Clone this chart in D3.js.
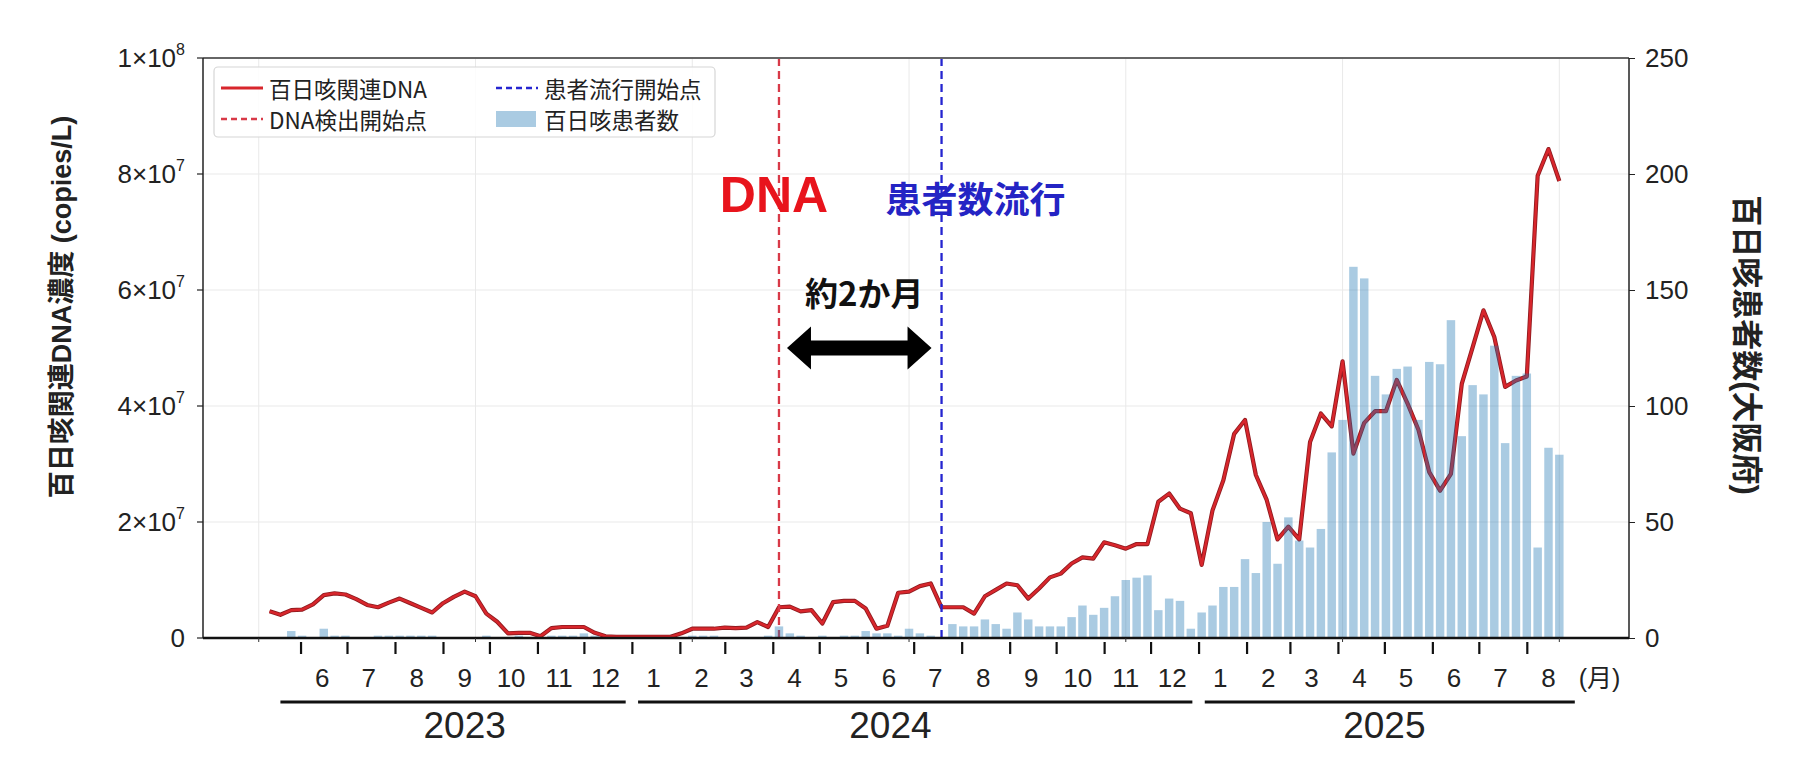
<!DOCTYPE html>
<html>
<head>
<meta charset="utf-8">
<script src="https://cdn.jsdelivr.net/npm/d3@7"></script>
<style>
  body { margin: 0; background: #fff; }
  svg text { font-family: "Liberation Sans", Arial, "Noto Sans CJK JP", sans-serif; }
  .jp { font-family: "Noto Sans CJK JP", "Liberation Sans", sans-serif; }
</style>
</head>
<body>
<svg id="chart" width="1802" height="760"></svg>
<script>
// 週ごとのデータ（2023-05-12 から毎週）
const weekStart = "2023-05-12";

// 百日咳関連DNA濃度 (×10^6 copies/L)
const dnaMillion = [
  4.6, 4.0, 4.8, 4.9, 5.8, 7.4, 7.7, 7.5, 6.7, 5.7,
  5.3, 6.1, 6.8, 6.0, 5.2, 4.4, 6.0, 7.1, 8.0, 7.2,
  4.2, 2.8, 0.8, 0.9, 0.9, 0.3, 1.7, 1.9, 1.9, 1.9,
  0.9, 0.3, 0.2, 0.2, 0.2, 0.2, 0.2, 0.2, 0.8, 1.6,
  1.6, 1.6, 1.8, 1.7, 1.8, 2.75, 1.9, 5.3, 5.4, 4.6,
  4.8, 2.5, 6.2, 6.4, 6.4, 5.1, 1.6, 2.1, 7.8, 8.0,
  8.95, 9.4, 5.3, 5.3, 5.3, 4.2, 7.2, 8.3, 9.4, 9.1,
  6.8, 8.55, 10.45, 11.1, 12.85, 13.9, 13.7, 16.5, 16.0, 15.4,
  16.2, 16.2, 23.5, 24.9, 22.3, 21.5, 12.6, 22.0, 27.2, 35.2,
  37.6, 28.1, 23.8, 17.0, 19.2, 17.0, 33.8, 38.7, 36.5, 47.7,
  31.8, 37.1, 39.1, 39.1, 44.5, 40.4, 35.9, 28.6, 25.4, 28.3,
  43.8, 50.1, 56.5, 51.9, 43.3, 44.4, 45.1, 79.7, 84.3, 78.8
];

// 百日咳患者数（大阪府）
const patients = [
  0, 0, 3, 1, 0, 4, 1, 1, 0, 0,
  1, 1, 1, 1, 1, 1, 0, 0, 0, 0,
  1, 0, 0, 1, 0, 0, 1, 1, 1, 2,
  1, 0, 0, 0, 0, 0, 0, 0, 0, 1,
  1, 1, 0, 0, 0, 0, 1, 5, 2, 1,
  0, 1, 0, 1, 1, 3, 2, 2, 1, 4,
  2, 1, 0, 6, 5, 5, 8, 6, 4, 11,
  8, 5, 5, 5, 9, 14, 10, 13, 18, 25,
  26, 27, 12, 17, 16, 4, 11, 14, 22, 22,
  34, 28, 50, 32, 52, 42, 39, 47, 80, 94,
  160, 155, 113, 105, 116, 117, 94, 119, 118, 137,
  87, 109, 105, 126, 84, 113, 114, 39, 82, 79
];

// 軸の目盛り
const leftTicks = [0, 20, 40, 60, 80, 100];   // ×10^6
const rightTicks = [0, 50, 100, 150, 200, 250];
const monthLabels = ["6","7","8","9","10","11","12",
  "1","2","3","4","5","6","7","8","9","10","11","12",
  "1","2","3","4","5","6","7","8"];
const yearLabels = ["2023", "2024", "2025"];
const yearSpans = [["2023-05-19", "2023-12-28"], ["2024-01-05", "2024-12-28"], ["2025-01-05", "2025-09-01"]];
const yearLabelAt = ["2023-09-15", "2024-06-16", "2025-05-01"];
const gridWeeks = [-1, 19, 39, 59, 79, 99, 119];

// 開始点（週インデックス）
const dnaStartWeek = 47;
const patientStartWeek = 62;

const M = { left: 203, right: 1629, top: 58, bottom: 638 };

const svg = d3.select("#chart");
const t0 = new Date(weekStart + "T00:00:00Z");
const dates = dnaMillion.map((_, i) => d3.utcDay.offset(t0, 7 * i));
const weekDate = i => d3.utcDay.offset(t0, 7 * i);
const utc = s => new Date(s + "T00:00:00Z");

const x = d3.scaleUtc()
  .domain([utc("2023-03-30"), utc("2025-10-06")])
  .range([M.left, M.right]);
const yL = d3.scaleLinear().domain([0, 100]).range([M.bottom, M.top]);
const yR = d3.scaleLinear().domain([0, 250]).range([M.bottom, M.top]);

// グリッド
svg.append("g").selectAll("line").data(leftTicks.slice(1, -1)).join("line")
  .attr("x1", M.left).attr("x2", M.right)
  .attr("y1", d => yL(d)).attr("y2", d => yL(d))
  .attr("stroke", "#e9e9e9").attr("stroke-width", 1);
svg.append("g").selectAll("line").data(gridWeeks).join("line")
  .attr("x1", d => x(weekDate(d))).attr("x2", d => x(weekDate(d)))
  .attr("y1", M.top).attr("y2", M.bottom)
  .attr("stroke", "#e9e9e9").attr("stroke-width", 1);

// DNA 折れ線
const line = d3.line().x((d, i) => x(dates[i])).y(d => yL(d));
svg.append("path").datum(dnaMillion)
  .attr("fill", "none").attr("stroke", "#8e1b1f").attr("stroke-width", 4.2)
  .attr("stroke-linejoin", "round").attr("d", line);
svg.append("path").datum(dnaMillion)
  .attr("fill", "none").attr("stroke", "#d8262c").attr("stroke-width", 2.5)
  .attr("stroke-linejoin", "round").attr("d", line);

// 開始点の縦線
svg.append("line")
  .attr("x1", x(weekDate(dnaStartWeek))).attr("x2", x(weekDate(dnaStartWeek)))
  .attr("y1", M.top).attr("y2", M.bottom)
  .attr("stroke", "#d83a48").attr("stroke-width", 2.3).attr("stroke-dasharray", "8,5");
svg.append("line")
  .attr("x1", x(weekDate(patientStartWeek))).attr("x2", x(weekDate(patientStartWeek)))
  .attr("y1", M.top).attr("y2", M.bottom)
  .attr("stroke", "#2525d0").attr("stroke-width", 2.3).attr("stroke-dasharray", "8,5");

// 患者数の棒
const bw = (x(weekDate(1)) - x(weekDate(0))) * 0.78;
svg.append("g").selectAll("rect").data(patients).join("rect")
  .attr("x", (d, i) => x(dates[i]) - bw / 2)
  .attr("width", bw)
  .attr("y", d => yR(d))
  .attr("height", d => yR(0) - yR(d))
  .attr("fill", "#1f77b4").attr("fill-opacity", 0.38);

// 枠線
svg.append("line").attr("x1", M.left).attr("x2", M.right).attr("y1", M.top).attr("y2", M.top)
  .attr("stroke", "#666").attr("stroke-width", 2);
svg.append("line").attr("x1", M.left).attr("x2", M.left).attr("y1", M.top).attr("y2", M.bottom)
  .attr("stroke", "#222").attr("stroke-width", 1.5);
svg.append("line").attr("x1", M.right).attr("x2", M.right).attr("y1", M.top).attr("y2", M.bottom)
  .attr("stroke", "#222").attr("stroke-width", 1.5);
svg.append("line").attr("x1", M.left).attr("x2", M.right).attr("y1", M.bottom).attr("y2", M.bottom)
  .attr("stroke", "#111").attr("stroke-width", 2.5);

// 小さい目盛り（グリッド位置）
svg.append("g").selectAll("line").data(gridWeeks).join("line")
  .attr("x1", d => x(weekDate(d))).attr("x2", d => x(weekDate(d)))
  .attr("y1", M.bottom).attr("y2", M.bottom + 4)
  .attr("stroke", "#333").attr("stroke-width", 1);

// 左軸
const fmtLeft = v => v === 0 ? ["0", ""] : v >= 100 ? [(v / 100) + "×10", "8"] : [(v / 10) + "×10", "7"];
const gL = svg.append("g");
leftTicks.forEach(v => {
  gL.append("line").attr("x1", M.left - 6).attr("x2", M.left)
    .attr("y1", yL(v)).attr("y2", yL(v)).attr("stroke", "#222").attr("stroke-width", 1.2);
  const [a, b] = fmtLeft(v);
  const t = gL.append("text").attr("x", M.left - 18).attr("y", yL(v) + 9)
    .attr("text-anchor", "end").attr("font-size", 26).attr("fill", "#222");
  t.append("tspan").text(a);
  if (b) t.append("tspan").attr("dy", -12).attr("font-size", 16).text(b);
});

// 右軸
const gR = svg.append("g").attr("transform", `translate(${M.right},0)`)
  .call(d3.axisRight(yR).tickValues(rightTicks).tickSize(6).tickPadding(10).tickFormat(d3.format("d")));
gR.select(".domain").remove();
gR.selectAll(".tick line").attr("stroke", "#222");
gR.selectAll(".tick text").attr("font-size", 26).attr("fill", "#222")
  .style("font-family", "'Liberation Sans', Arial, sans-serif");

// 月の目盛り
const monthStarts = d3.utcMonth.range(utc("2023-06-01"), utc("2025-08-02"));
const gM = svg.append("g").attr("transform", `translate(0,${M.bottom + 4})`)
  .call(d3.axisBottom(x).tickValues(monthStarts).tickSize(12).tickFormat(""));
gM.select(".domain").remove();
gM.selectAll(".tick line").attr("stroke", "#111").attr("stroke-width", 2.2);

svg.append("g").selectAll("text").data(monthLabels).join("text")
  .attr("x", (d, i) => x(d3.utcDay.offset(monthStarts[i], 14)))
  .attr("y", 687)
  .attr("text-anchor", "middle").attr("font-size", 26).attr("fill", "#222")
  .text(d => d);
svg.append("text").attr("x", x(utc("2025-09-17"))).attr("y", 687)
  .attr("text-anchor", "middle").attr("font-size", 25).attr("fill", "#222")
  .text("(月)");

// 年の下線とラベル
svg.append("g").selectAll("line").data(yearSpans).join("line")
  .attr("x1", d => x(utc(d[0]))).attr("x2", d => x(utc(d[1])))
  .attr("y1", 702).attr("y2", 702)
  .attr("stroke", "#111").attr("stroke-width", 3);
svg.append("g").selectAll("text").data(yearLabels).join("text")
  .attr("x", (d, i) => x(utc(yearLabelAt[i])))
  .attr("y", 738)
  .attr("text-anchor", "middle").attr("font-size", 37).attr("fill", "#222")
  .text(d => d);

// 軸タイトル
svg.append("text")
  .attr("transform", `translate(62,307) rotate(-90)`)
  .attr("text-anchor", "middle").attr("dominant-baseline", "central")
  .attr("font-size", 27).attr("font-weight", "bold").attr("fill", "#222")
  .text("百日咳関連DNA濃度 (copies/L)");
svg.append("text")
  .attr("transform", `translate(1746,345) rotate(90)`)
  .attr("text-anchor", "middle").attr("dominant-baseline", "central")
  .attr("font-size", 31).attr("font-weight", "bold").attr("fill", "#222")
  .text("百日咳患者数(大阪府)");

// 注釈
const xa = x(weekDate(dnaStartWeek)), xb = x(weekDate(patientStartWeek));
svg.append("text").attr("x", xa - 5).attr("y", 212)
  .attr("text-anchor", "middle").attr("font-size", 50).attr("font-weight", "bold")
  .attr("fill", "#e8141c").text("DNA");
svg.append("text").attr("class", "jp").attr("x", xb + 34).attr("y", 197)
  .attr("text-anchor", "middle").attr("dominant-baseline", "central")
  .attr("font-size", 36).attr("font-weight", "bold")
  .attr("fill", "#2424c4").text("患者数流行");
svg.append("text").attr("class", "jp").attr("x", (xa + xb) / 2 + 4).attr("y", 292)
  .attr("text-anchor", "middle").attr("dominant-baseline", "central")
  .attr("font-size", 33).attr("font-weight", "bold")
  .attr("fill", "#111").text("約2か月");

// 両矢印
const ax1 = xa + 8, ax2 = xb - 10, cy = 348, hl = 24, hh = 43, st = 15;
svg.append("path")
  .attr("d", `M${ax1},${cy} L${ax1 + hl},${cy - hh / 2} L${ax1 + hl},${cy - st / 2} L${ax2 - hl},${cy - st / 2}
    L${ax2 - hl},${cy - hh / 2} L${ax2},${cy} L${ax2 - hl},${cy + hh / 2} L${ax2 - hl},${cy + st / 2}
    L${ax1 + hl},${cy + st / 2} L${ax1 + hl},${cy + hh / 2} Z`)
  .attr("fill", "#000");

// 凡例
const lg = svg.append("g");
lg.append("rect").attr("x", 214).attr("y", 67).attr("width", 501).attr("height", 70)
  .attr("rx", 4).attr("fill", "#fff").attr("fill-opacity", 0.85)
  .attr("stroke", "#d6d6d6").attr("stroke-width", 1.2);
const legendItems = [
  { label: "百日咳関連DNA", kind: "line", color: "#d8262c", dash: null, col: 0, row: 0 },
  { label: "DNA検出開始点", kind: "line", color: "#d83a48", dash: "6,4", col: 0, row: 1 },
  { label: "患者流行開始点", kind: "line", color: "#2525d0", dash: "6,4", col: 1, row: 0 },
  { label: "百日咳患者数", kind: "patch", color: "#1f77b4", col: 1, row: 1 }
];
const colX = [221, 496], rowY = [88, 119];
legendItems.forEach(it => {
  const hx = colX[it.col], hy = rowY[it.row];
  if (it.kind === "line") {
    lg.append("line").attr("x1", hx).attr("x2", hx + 42).attr("y1", hy).attr("y2", hy)
      .attr("stroke", it.color).attr("stroke-width", it.dash ? 2.4 : 3.2)
      .attr("stroke-dasharray", it.dash);
  } else {
    lg.append("rect").attr("x", hx).attr("y", hy - 8).attr("width", 40).attr("height", 16)
      .attr("fill", it.color).attr("fill-opacity", 0.38);
  }
  lg.append("text").attr("class", "jp").attr("x", hx + 48).attr("y", hy)
    .attr("dominant-baseline", "central").attr("font-size", 22.5).attr("fill", "#222")
    .text(it.label);
});
</script>
</body>
</html>
